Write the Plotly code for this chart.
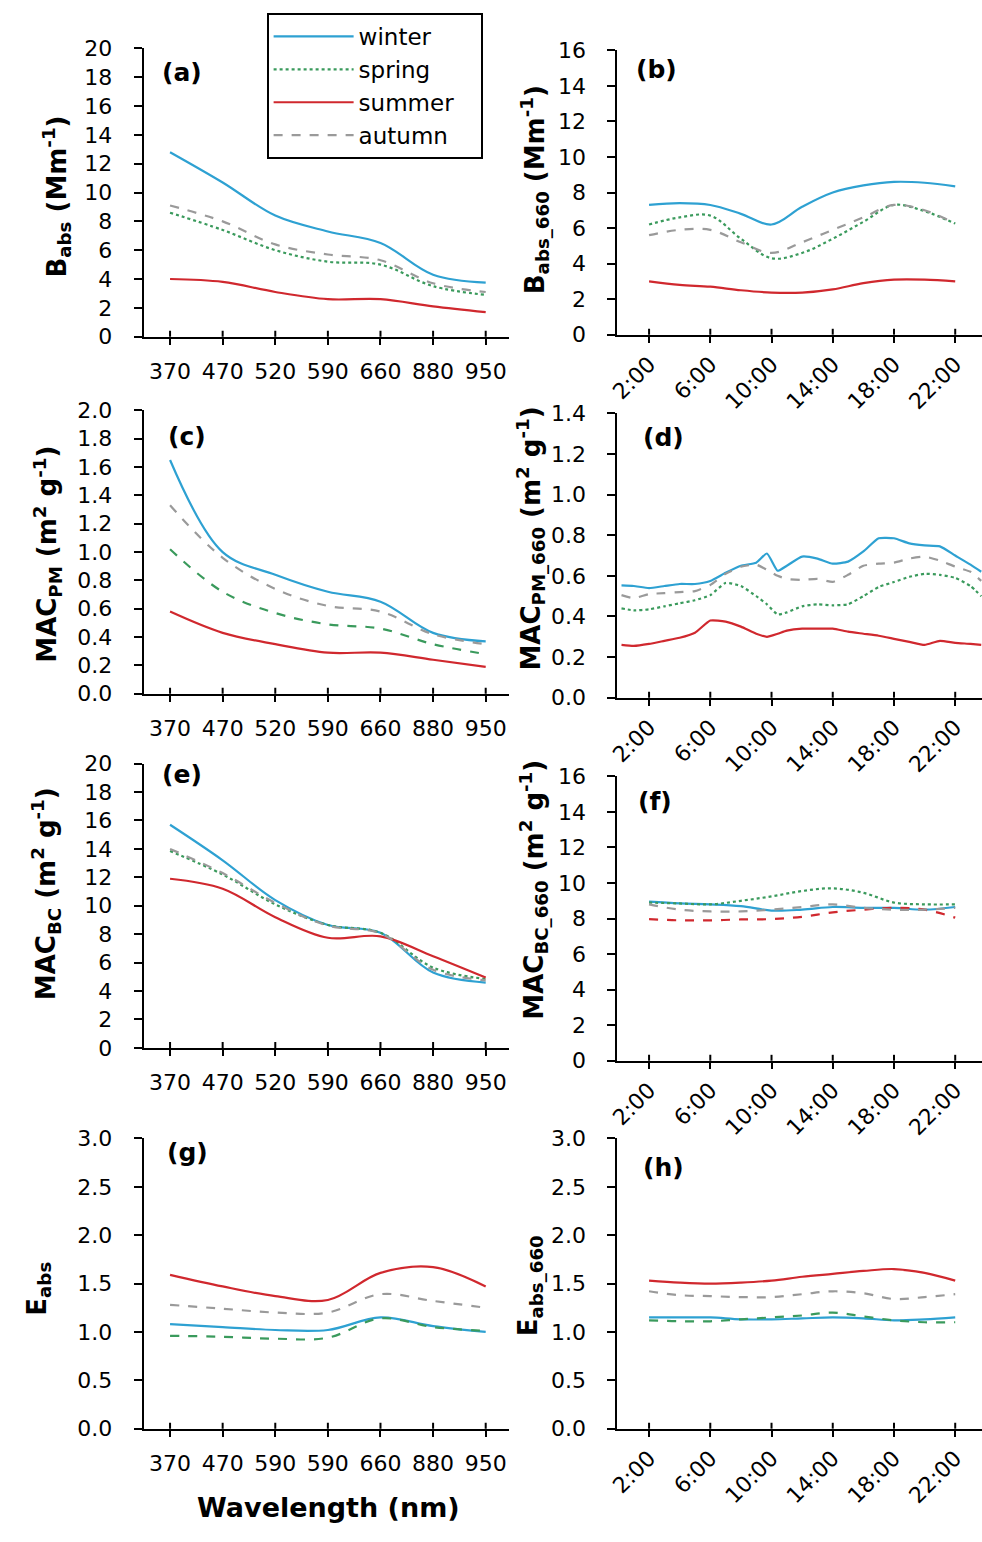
import plotly.graph_objects as go

W, H = 982, 1542
FONT = "DejaVu Sans"

# ---------------- data ----------------
seasons = ["winter", "spring", "summer", "autumn"]
wl_pos = [0, 1, 2, 3, 4, 5, 6]
wl_labels = ["370", "470", "520", "590", "660", "880", "950"]
wl_labels_g = ["370", "470", "590", "590", "660", "880", "950"]
hours = [2, 4, 6, 8, 10, 12, 14, 16, 18, 20, 22]
hours_d = [0.2, 1, 2, 3, 4, 5, 6, 7, 8, 9, 9.7, 10.4, 11, 12, 13, 14, 15, 16,
           17, 18, 19, 20, 21, 22, 23, 23.7]
hour_ticks = [2, 6, 10, 14, 18, 22]
hour_labels = ["2:00", "6:00", "10:00", "14:00", "18:00", "22:00"]

# (a) B_abs vs wavelength
a_winter = [12.8, 10.7, 8.4, 7.3, 6.5, 4.3, 3.75]
a_spring = [8.6, 7.4, 6.0, 5.2, 5.0, 3.5, 2.9]
a_summer = [4.0, 3.8, 3.1, 2.6, 2.6, 2.1, 1.7]
a_autumn = [9.1, 8.0, 6.4, 5.7, 5.3, 3.7, 3.1]
# (b) B_abs_660 diurnal
b_winter = [7.3, 7.4, 7.3, 6.8, 6.2, 7.2, 8.0, 8.4, 8.6, 8.55, 8.35]
b_spring = [6.2, 6.6, 6.7, 5.4, 4.3, 4.6, 5.4, 6.35, 7.3, 6.95, 6.25]
b_summer = [3.0, 2.8, 2.7, 2.5, 2.37, 2.37, 2.55, 2.9, 3.1, 3.1, 3.0]
b_autumn = [5.6, 5.9, 5.9, 5.2, 4.6, 5.2, 5.9, 6.6, 7.3, 7.0, 6.25]
# (c) MAC_PM vs wavelength
c_winter = [1.65, 1.0, 0.84, 0.72, 0.65, 0.43, 0.37]
c_spring = [1.02, 0.72, 0.57, 0.49, 0.46, 0.35, 0.28]
c_summer = [0.58, 0.43, 0.35, 0.29, 0.29, 0.24, 0.19]
c_autumn = [1.33, 0.96, 0.74, 0.62, 0.58, 0.42, 0.35]
# (d) MAC_PM_660 diurnal
d_winter = [0.553, 0.55, 0.54, 0.55, 0.56, 0.56, 0.575, 0.615, 0.65, 0.665, 0.71, 0.625, 0.65,
            0.695, 0.685, 0.66, 0.67, 0.72, 0.785, 0.785, 0.76, 0.75, 0.745, 0.70, 0.655, 0.62]
d_spring = [0.44, 0.43, 0.435, 0.45, 0.465, 0.48, 0.505, 0.565, 0.55, 0.50, 0.46, 0.41, 0.42,
            0.45, 0.46, 0.455, 0.46, 0.50, 0.545, 0.57, 0.595, 0.61, 0.605, 0.59, 0.55, 0.50]
d_summer = [0.26, 0.255, 0.265, 0.28, 0.295, 0.32, 0.38, 0.375, 0.35, 0.315, 0.30, 0.315, 0.33,
            0.34, 0.34, 0.34, 0.325, 0.315, 0.305, 0.29, 0.275, 0.26, 0.28, 0.27, 0.265, 0.26]
d_autumn = [0.505, 0.49, 0.51, 0.515, 0.52, 0.525, 0.555, 0.61, 0.645, 0.655, 0.63, 0.60, 0.585,
            0.58, 0.585, 0.57, 0.605, 0.65, 0.66, 0.665, 0.685, 0.695, 0.675, 0.645, 0.62, 0.575]
# (e) MAC_BC vs wavelength
e_winter = [15.7, 13.2, 10.4, 8.65, 8.1, 5.3, 4.6]
e_spring = [13.85, 12.2, 10.1, 8.65, 8.1, 5.65, 4.85]
e_summer = [11.9, 11.2, 9.2, 7.75, 7.85, 6.45, 4.95]
e_autumn = [14.0, 12.3, 10.2, 8.6, 8.05, 5.5, 4.75]
# (f) MAC_BC_660 diurnal
f_winter = [8.95, 8.85, 8.8, 8.7, 8.45, 8.5, 8.65, 8.6, 8.6, 8.5, 8.65]
f_spring = [8.9, 8.85, 8.8, 9.0, 9.25, 9.55, 9.7, 9.45, 8.9, 8.8, 8.8]
f_summer = [7.97, 7.9, 7.9, 7.95, 7.97, 8.1, 8.35, 8.5, 8.6, 8.5, 8.05]
f_autumn = [8.8, 8.5, 8.4, 8.4, 8.5, 8.65, 8.8, 8.6, 8.5, 8.5, 8.6]
# (g) E_abs vs wavelength
g_winter = [1.08, 1.05, 1.02, 1.02, 1.15, 1.06, 1.0]
g_spring = [0.96, 0.95, 0.93, 0.94, 1.14, 1.05, 1.01]
g_summer = [1.59, 1.47, 1.37, 1.33, 1.61, 1.67, 1.47]
g_autumn = [1.28, 1.24, 1.2, 1.2, 1.39, 1.32, 1.25]
# (h) E_abs_660 diurnal
h_winter = [1.15, 1.15, 1.15, 1.13, 1.13, 1.14, 1.15, 1.14, 1.12, 1.13, 1.15]
h_spring = [1.12, 1.11, 1.11, 1.13, 1.15, 1.17, 1.2, 1.16, 1.12, 1.1, 1.1]
h_summer = [1.53, 1.51, 1.5, 1.51, 1.53, 1.57, 1.6, 1.63, 1.65, 1.61, 1.53]
h_autumn = [1.42, 1.38, 1.37, 1.36, 1.36, 1.39, 1.42, 1.40, 1.34, 1.36, 1.39]

# ---------------- style ----------------
COL = dict(winter="#2ea1d2", spring="#3a9a5c", summer="#d0282e", autumn="#9a9a9a")

panels = [
    dict(lab="(a)", x=wl_pos, s=dict(winter=a_winter, spring=a_spring, summer=a_summer, autumn=a_autumn),
         dash=dict(winter="solid", spring="dot", summer="solid", autumn="dash"), kind="wl", tt=wl_labels,
         xd=(136, 505), yd=(37, 330), yr=[0, 20], dt=2, fmt="d", sm=1.0,
         title="<b>B<sub>abs</sub> (Mm<sup>-1</sup>)</b>", tpos=(48, 188), lpos=(175, 61)),
    dict(lab="(b)", x=hours, s=dict(winter=b_winter, spring=b_spring, summer=b_summer, autumn=b_autumn),
         dash=dict(winter="solid", spring="dot", summer="solid", autumn="dash"), kind="hr",
         xd=(614, 982), yd=(39, 328), yr=[0, 16], dt=2, fmt="d", sm=1.0,
         title="<b>B<sub>abs_660</sub> (Mm<sup>-1</sup>)</b>", tpos=(530, 181), lpos=(653, 58)),
    dict(lab="(c)", x=wl_pos, s=dict(winter=c_winter, spring=c_spring, summer=c_summer, autumn=c_autumn),
         dash=dict(winter="solid", spring="dash", summer="solid", autumn="dash"), kind="wl", tt=wl_labels,
         xd=(136, 505), yd=(405, 693), yr=[0, 2.0], dt=0.2, fmt=".1f", sm=1.0,
         title="<b>MAC<sub>PM</sub> (m<sup>2</sup> g<sup>-1</sup>)</b>", tpos=(38, 551), lpos=(180, 432)),
    dict(lab="(d)", x=hours_d, s=dict(winter=d_winter, spring=d_spring, summer=d_summer, autumn=d_autumn),
         dash=dict(winter="solid", spring="dot", summer="solid", autumn="dash"), kind="hr",
         xd=(614, 982), yd=(408, 697), yr=[0, 1.4], dt=0.2, fmt=".1f", sm=0.5,
         title="<b>MAC<sub>PM_660</sub> (m<sup>2</sup> g<sup>-1</sup>)</b>", tpos=(526, 535), lpos=(661, 433)),
    dict(lab="(e)", x=wl_pos, s=dict(winter=e_winter, spring=e_spring, summer=e_summer, autumn=e_autumn),
         dash=dict(winter="solid", spring="dot", summer="solid", autumn="dash"), kind="wl", tt=wl_labels,
         xd=(136, 505), yd=(764, 1053), yr=[0, 20], dt=2, fmt="d", sm=1.0,
         title="<b>MAC<sub>BC</sub> (m<sup>2</sup> g<sup>-1</sup>)</b>", tpos=(37, 896), lpos=(175, 775)),
    dict(lab="(f)", x=hours, s=dict(winter=f_winter, spring=f_spring, summer=f_summer, autumn=f_autumn),
         dash=dict(winter="solid", spring="dot", summer="dash", autumn="dash"), kind="hr",
         xd=(614, 982), yd=(777, 1066), yr=[0, 16], dt=2, fmt="d", sm=1.0,
         title="<b>MAC<sub>BC_660</sub> (m<sup>2</sup> g<sup>-1</sup>)</b>", tpos=(529, 892), lpos=(652, 803)),
    dict(lab="(g)", x=wl_pos, s=dict(winter=g_winter, spring=g_spring, summer=g_summer, autumn=g_autumn),
         dash=dict(winter="solid", spring="dash", summer="solid", autumn="dash"), kind="wl", tt=wl_labels_g,
         xd=(136, 505), yd=(1145, 1440), yr=[0, 3.0], dt=0.5, fmt=".1f", sm=1.0,
         title="<b>E<sub>abs</sub></b>", tpos=(30, 1298), lpos=(180, 1159)),
    dict(lab="(h)", x=hours, s=dict(winter=h_winter, spring=h_spring, summer=h_summer, autumn=h_autumn),
         dash=dict(winter="solid", spring="dash", summer="solid", autumn="dash"), kind="hr",
         xd=(614, 982), yd=(1145, 1440), yr=[0, 3.0], dt=0.5, fmt=".1f", sm=1.0,
         title="<b>E<sub>abs_660</sub></b>", tpos=(525, 1295), lpos=(661, 1175)),
]

fig = go.Figure()
layout = {}
shapes = []
annotations = []
tickfont = dict(family=FONT, size=22, color="black")

for i, p in enumerate(panels, start=1):
    sfx = "" if i == 1 else str(i)
    xa, ya = "x" + sfx, "y" + sfx
    for s in seasons:
        fig.add_trace(go.Scatter(
            x=p["x"], y=p["s"][s], xaxis=xa, yaxis=ya, mode="lines",
            name=s + "\u00a0\u00a0\u00a0",
            legendgroup=s, showlegend=(i == 1), hoverinfo="skip",
            line=dict(color=COL[s], width=2.2, dash=p["dash"][s], shape="spline", smoothing=p["sm"])))
    if p["kind"] == "wl":
        tv, tt, xr, ang = wl_pos, p["tt"], [-0.5, 6.45], 0
    else:
        tv, tt, xr, ang = hour_ticks, hour_labels, [-0.07, 23.75], -45
    layout["xaxis" + sfx] = dict(
        domain=[p["xd"][0] / W, p["xd"][1] / W], anchor=ya, range=xr,
        tickmode="array", tickvals=tv, ticktext=tt, tickangle=ang,
        ticks="outside", ticklen=6, tickwidth=2, tickcolor="black",
        showline=True, linecolor="black", linewidth=2, showgrid=False, zeroline=False,
        tickfont=tickfont, ticklabelstandoff=8 if ang == 0 else 0, fixedrange=True)
    layout["yaxis" + sfx] = dict(
        domain=[1 - p["yd"][1] / H, 1 - p["yd"][0] / H], anchor=xa, range=p["yr"],
        tickmode="linear", tick0=0, dtick=p["dt"], tickformat=p["fmt"],
        ticks="outside", ticklen=8, tickwidth=2, tickcolor="black",
        showline=True, linecolor="black", linewidth=2, showgrid=False, zeroline=False,
        tickfont=tickfont, ticklabelstandoff=17, fixedrange=True)
    # inner half of crossing x tick marks
    hpx = p["yd"][1] - p["yd"][0]
    for v in tv:
        shapes.append(dict(type="line", xref=xa, yref=ya + " domain", x0=v, x1=v,
                           y0=0, y1=6 / hpx, line=dict(color="black", width=2)))
    annotations.append(dict(text="<b>" + p["lab"] + "</b>", xref="paper", yref="paper",
                            x=p["lpos"][0] / W, y=1 - p["lpos"][1] / H, showarrow=False,
                            xanchor="center", yanchor="middle",
                            font=dict(family=FONT, size=25, color="black")))
    annotations.append(dict(text=p["title"], xref="paper", yref="paper",
                            x=p["tpos"][0] / W, y=1 - p["tpos"][1] / H, showarrow=False,
                            textangle=-90, xanchor="center", yanchor="middle",
                            font=dict(family=FONT, size=26, color="black")))

annotations.append(dict(text="<b>Wavelength (nm)</b>", xref="paper", yref="paper",
                        x=322 / W, y=1 - 1520 / H, showarrow=False, xanchor="center", yanchor="middle",
                        font=dict(family=FONT, size=27, color="black")))

fig.update_layout(
    **layout,
    width=W, height=H, margin=dict(l=0, r=0, t=0, b=0),
    paper_bgcolor="white", plot_bgcolor="white",
    shapes=shapes, annotations=annotations,
    showlegend=True,
    legend=dict(x=260 / W, y=1 - 1 / H, xanchor="left", yanchor="top",
                bgcolor="white", bordercolor="black", borderwidth=2,
                font=dict(family=FONT, size=23, color="black"),
                itemwidth=80, tracegroupgap=0),
)

fig.write_html("out.html")
